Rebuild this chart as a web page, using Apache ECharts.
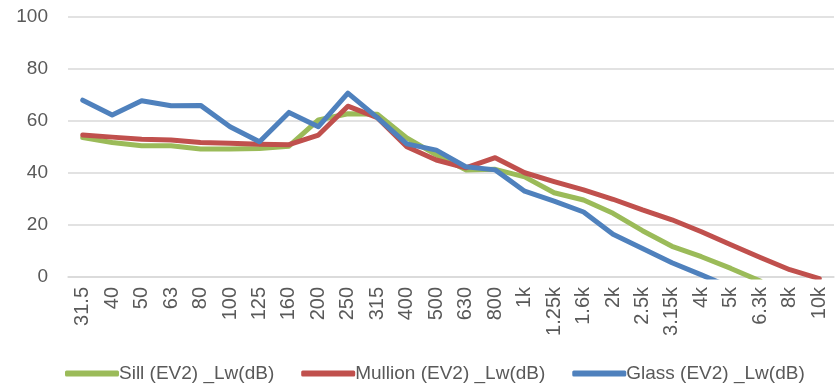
<!DOCTYPE html>
<html><head><meta charset="utf-8">
<script src="https://cdn.jsdelivr.net/npm/echarts@6/dist/echarts.min.js"></script>
<style>html,body{margin:0;padding:0;background:#fff}#c{width:838px;height:389px}</style>
</head><body><div id="c"></div>
<script>
var categories = ['31.5','40','50','63','80','100','125','160','200','250','315','400','500','630','800','1k','1.25k','1.6k','2k','2.5k','3.15k','4k','5k','6.3k','8k','10k'];
var sill = [53.6,51.7,50.5,50.5,49.2,49.2,49.4,50.3,60.4,62.8,62.6,53.5,47,41.2,41.4,38.5,32.4,29.6,24.5,17.8,11.8,7.8,3.3,-1.6,null,null];
var mullion = [54.6,53.8,53,52.7,51.7,51.4,51.1,50.9,54.6,65.7,61.3,50.1,45,42,45.9,40.1,36.7,33.5,29.9,25.8,22,17.4,12.4,7.5,2.8,-0.6];
var glass = [68,62.3,67.8,65.9,66,57.8,52,63.3,57.8,70.7,61.3,51.2,48.8,42.4,41.2,33,29.2,25,16.4,11,5.5,0.8,-4,null,null,null];
var seriesNames = ['Sill (EV2) _Lw(dB)','Mullion (EV2) _Lw(dB)','Glass (EV2) _Lw(dB)'];
var colors = ['#9BBB59','#C0504D','#4F81BD'];
var yTicks = {min:0,max:100,interval:20};

var font = 'Liberation Sans, Arial, sans-serif';
var chart = echarts.init(document.getElementById('c'));
function s(name, data, color){
  return {name:name,type:'line',data:data,symbol:'none',clip:true,
    lineStyle:{width:5,color:color,cap:'round',join:'round'},itemStyle:{color:color},animation:false};
}
chart.setOption({
  animation:false,
  grid:{left:68,right:4,top:17,bottom:112,containLabel:false},
  legend:{bottom:1,left:60,itemWidth:54,itemHeight:6,itemGap:27,
    icon:'roundRect',
    textStyle:{fontFamily:font,fontSize:19,color:'#595959',padding:[0,0,0,-5]},
    data:seriesNames},
  xAxis:{type:'category',data:categories,boundaryGap:true,
    axisLine:{show:true,lineStyle:{color:'#d9d9d9',width:1.5}},axisTick:{show:false},
    axisLabel:{rotate:90,interval:0,fontFamily:font,fontSize:20,color:'#595959',margin:10}},
  yAxis:{type:'value',min:yTicks.min,max:yTicks.max,interval:yTicks.interval,
    axisLine:{show:false},axisTick:{show:false},
    splitLine:{lineStyle:{color:'#d9d9d9',width:1.5}},
    axisLabel:{fontFamily:font,fontSize:19,color:'#595959',margin:20}},
  series:[s(seriesNames[0],sill,colors[0]),s(seriesNames[1],mullion,colors[1]),s(seriesNames[2],glass,colors[2])]
});
</script></body></html>
